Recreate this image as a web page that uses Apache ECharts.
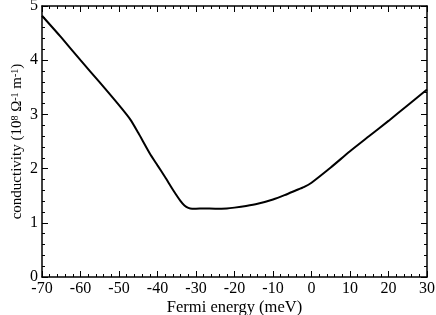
<!DOCTYPE html>
<html><head><meta charset="utf-8">
<script src="https://cdn.jsdelivr.net/npm/echarts@6/dist/echarts.min.js"></script>
<style>html,body{margin:0;padding:0;background:#fff}#c{width:436px;height:315px}</style>
</head><body><div id="c"></div>
<script>
const energy = [-70,-65,-60,-55,-50,-47,-45,-42,-40,-38,-36,-34,-33,-32,-31,-30,-28,-25,-22,-20,-17,-14,-10,-7,-4,-2,0,5,10,15,20,25,30];
const conductivity = [4.82,4.42,4.0,3.59,3.17,2.9,2.66,2.28,2.06,1.84,1.61,1.4,1.32,1.275,1.26,1.26,1.265,1.26,1.265,1.28,1.31,1.35,1.43,1.51,1.6,1.66,1.74,2.02,2.32,2.6,2.88,3.17,3.46];
const xTicks = [-70,-60,-50,-40,-30,-20,-10,0,10,20,30];
const yTicks = [0,1,2,3,4,5];

const font = 'Liberation Serif';
const axisCommon = {
  axisLine:{show:true,onZero:false,lineStyle:{color:'#000',width:1.5}},
  axisTick:{show:true,inside:true,length:6,lineStyle:{color:'#000',width:1}},
  minorTick:{show:true,splitNumber:5,length:3,lineStyle:{color:'#000',width:1}},
  splitLine:{show:false}
};
const chart = echarts.init(document.getElementById('c'));
chart.setOption({
  animation:false,
  grid:{left:42,right:9,top:6,bottom:38,containLabel:false,outerBoundsMode:'none'},
  xAxis:[
    Object.assign({type:'value',min:xTicks[0],max:xTicks[xTicks.length-1],interval:10,position:'bottom',
      name:'Fermi energy (meV)',nameLocation:'middle',nameGap:22,nameMoveOverlap:false,
      nameTextStyle:{fontFamily:font,fontSize:16.5,color:'#000'},
      axisLabel:{fontFamily:font,fontSize:16,color:'#000',margin:4}},axisCommon),
    Object.assign({type:'value',min:xTicks[0],max:xTicks[xTicks.length-1],interval:10,position:'top',
      axisLabel:{show:false}},axisCommon)
  ],
  yAxis:[
    Object.assign({type:'value',min:yTicks[0],max:yTicks[yTicks.length-1],interval:1,position:'left',
      name:'{n|conductivity (10}{s|8}{n| Ω}{s|-1}{n| m}{s|-1}{n|)}',nameLocation:'middle',nameGap:17,nameMoveOverlap:false,
      nameTextStyle:{fontFamily:font,fontSize:15,color:'#000',
        rich:{n:{fontFamily:font,fontSize:15,color:'#000',verticalAlign:'bottom'},
              s:{fontFamily:font,fontSize:10,color:'#000',verticalAlign:'top'}}},
      axisLabel:{fontFamily:font,fontSize:16,color:'#000',margin:4}},axisCommon),
    Object.assign({type:'value',min:yTicks[0],max:yTicks[yTicks.length-1],interval:1,position:'right',
      axisLabel:{show:false}},axisCommon)
  ],
  series:[{type:'line',data:energy.map((e,i)=>[e,conductivity[i]]),smooth:0.2,showSymbol:false,
    lineStyle:{color:'#000',width:2}}]
});
</script></body></html>
